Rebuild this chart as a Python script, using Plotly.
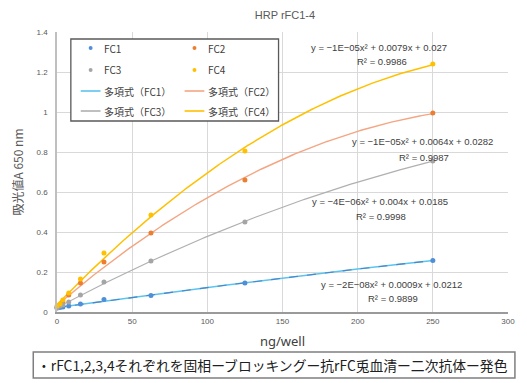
import numpy as np
import plotly.graph_objects as go

# Dilution series (ng/well) and absorbance readings at 650 nm
ng_per_well = [0, 1.95, 3.9, 7.8, 15.6, 31.25, 62.5, 125, 250]
fc1 = [0.020, 0.022, 0.025, 0.030, 0.040, 0.062, 0.083, 0.145, 0.258]
fc2 = [0.025, 0.035, 0.050, 0.085, 0.145, 0.250, 0.395, 0.660, 0.995]
fc3 = [0.020, 0.030, 0.035, 0.050, 0.085, 0.150, 0.255, 0.450, 0.755]
fc4 = [0.030, 0.040, 0.060, 0.095, 0.165, 0.295, 0.485, 0.805, 1.240]

series_names = ["FC1", "FC2", "FC3", "FC4"]
trend_names = ["多項式（FC1）", "多項式（FC2）", "多項式（FC3）", "多項式（FC4）"]
equations = [
    "y = −2E−08x² + 0.0009x + 0.0212",
    "y = −1E−05x² + 0.0064x + 0.0282",
    "y = −4E−06x² + 0.004x + 0.0185",
    "y = −1E−05x² + 0.0079x + 0.027",
]
r_squared = ["R² = 0.9899", "R² = 0.9987", "R² = 0.9998", "R² = 0.9986"]
x_ticks = [0, 50, 100, 150, 200, 250, 300]
y_ticks = [0, 0.2, 0.4, 0.6, 0.8, 1, 1.2, 1.4]
footnote = "・rFC1,2,3,4それぞれを固相ーブロッキングー抗rFC兎血清ー二次抗体ー発色"

marker_colors = ["#4F8FD8", "#ED7D31", "#A5A5A5", "#FFC000"]
trend_colors = ["#5CC4EE", "#F4A582", "#B0B0B0", "#FFC000"]
trend_widths = [1.5, 1.4, 1.2, 1.5]

CJK = "Noto Sans CJK JP"
fig = go.Figure()

x = np.array(ng_per_well)
x_fit = np.linspace(0, 250, 200)
for vals, tc, tw in zip([fc1, fc2, fc3, fc4], trend_colors, trend_widths):
    coef = np.polyfit(x, np.array(vals), 2)
    fig.add_trace(go.Scatter(x=x_fit, y=np.polyval(coef, x_fit), mode="lines",
                             line=dict(color=tc, width=tw), showlegend=False,
                             hoverinfo="skip"))
# darker dash overlay on the FC1 trend curve
c1 = np.polyfit(x, np.array(fc1), 2)
fig.add_trace(go.Scatter(x=x_fit, y=np.polyval(c1, x_fit), mode="lines",
                         line=dict(color="#4A86C8", width=1.1, dash="dash"),
                         showlegend=False, hoverinfo="skip"))

for name, vals, mc in zip(series_names, [fc1, fc2, fc3, fc4], marker_colors):
    fig.add_trace(go.Scatter(x=ng_per_well, y=vals, mode="markers", name=name,
                             marker=dict(color=mc, size=5), cliponaxis=False,
                             showlegend=False))

shapes = []
annotations = []

# legend box drawn in pixel-mapped paper coordinates
W, H = 527, 383
L, R, T, B = 57, 14, 32, 71
pw, ph = W - L - R, H - T - B


def px(xp):
    return (xp - L) / pw


def py(yp):
    return (H - B - yp) / ph


shapes.append(dict(type="rect", xref="paper", yref="paper",
                   x0=px(71), x1=px(281), y0=py(121), y1=py(39),
                   line=dict(color="#595959", width=1.3), fillcolor="white"))
rows = [48, 70, 91, 111]
cols = [(91, 83, 103), (196, 188, 208)]
for i in range(4):
    r, c = divmod(i, 2)
    mx, lx0, tx = cols[c]
    yy = rows[r]
    shapes.append(dict(type="circle", xref="paper", yref="paper",
                       x0=px(mx - 2), x1=px(mx + 2), y0=py(yy + 2), y1=py(yy - 2),
                       fillcolor=marker_colors[i], line=dict(width=0)))
    annotations.append(dict(xref="paper", yref="paper", x=px(tx), y=py(yy),
                            text=series_names[i], showarrow=False, xanchor="left",
                            yanchor="middle",
                            font=dict(family=CJK, size=10, color="#404040")))
for i in range(4):
    r, c = divmod(i, 2)
    mx, lx0, tx = cols[c]
    yy = rows[2 + r]
    shapes.append(dict(type="line", xref="paper", yref="paper",
                       x0=px(lx0 - 2), x1=px(lx0 + 18), y0=py(yy), y1=py(yy),
                       line=dict(color=trend_colors[i], width=1.6)))
    annotations.append(dict(xref="paper", yref="paper", x=px(tx), y=py(yy),
                            text=trend_names[i], showarrow=False, xanchor="left",
                            yanchor="middle",
                            font=dict(family=CJK, size=10, color="#404040")))

# trendline equations
eq_pos = [(395, 284, 397, 298), (427, 141, 428, 157),
          (384, 201, 385, 216), (383, 47, 386, 62)]
for i, (ex, ey, rx, ry) in enumerate(eq_pos):
    annotations.append(dict(xref="paper", yref="paper", x=px(ex), y=py(ey),
                            text=equations[i], showarrow=False,
                            xanchor="center", yanchor="middle",
                            font=dict(family="Liberation Sans", size=9.5, color="#404040")))
    annotations.append(dict(xref="paper", yref="paper", x=px(rx), y=py(ry),
                            text=r_squared[i], showarrow=False,
                            xanchor="center", yanchor="middle",
                            font=dict(family="Liberation Sans", size=9.5, color="#404040")))

# footnote box
shapes.append(dict(type="rect", xref="paper", yref="paper",
                   x0=px(33), x1=px(520), y0=py(378), y1=py(352),
                   line=dict(color="#7F7F7F", width=1.5), fillcolor="white"))
annotations.append(dict(xref="paper", yref="paper", x=px(35), y=py(365),
                        text=footnote, showarrow=False, xanchor="left", yanchor="middle",
                        font=dict(family=CJK, size=13.8, color="#202020")))

fig.update_layout(
    width=W, height=H,
    margin=dict(l=L, r=R, t=T, b=B),
    paper_bgcolor="white", plot_bgcolor="white",
    title=dict(text="HRP rFC1-4", x=(L + pw / 2) / W, y=1 - 15 / H,
               xanchor="center", yanchor="middle",
               font=dict(family="Liberation Sans", size=11, color="#595959")),
    xaxis=dict(range=[0, 300], tickvals=x_ticks, showgrid=True, gridcolor="#D9D9D9",
               gridwidth=1, showline=True, linecolor="#9A9A9A", linewidth=2,
               zeroline=False, ticks="", tickfont=dict(family="Liberation Sans", size=8,
                                                        color="#595959"),
               title=dict(text="ng/well", standoff=12,
                          font=dict(family="Noto Sans", size=13, color="#404040"))),
    yaxis=dict(range=[0, 1.4], tickvals=y_ticks, showgrid=True, gridcolor="#D9D9D9",
               gridwidth=1, showline=True, linecolor="#BFBFBF", linewidth=1.5,
               zeroline=False, ticks="", ticklabelstandoff=6,
               tickfont=dict(family="Liberation Sans", size=8, color="#595959"),
               title=dict(text="吸光値A 650 nm", standoff=10,
                          font=dict(family=CJK, size=12, color="#595959"))),
    shapes=shapes, annotations=annotations, showlegend=False,
)

fig.write_html("out.html")
